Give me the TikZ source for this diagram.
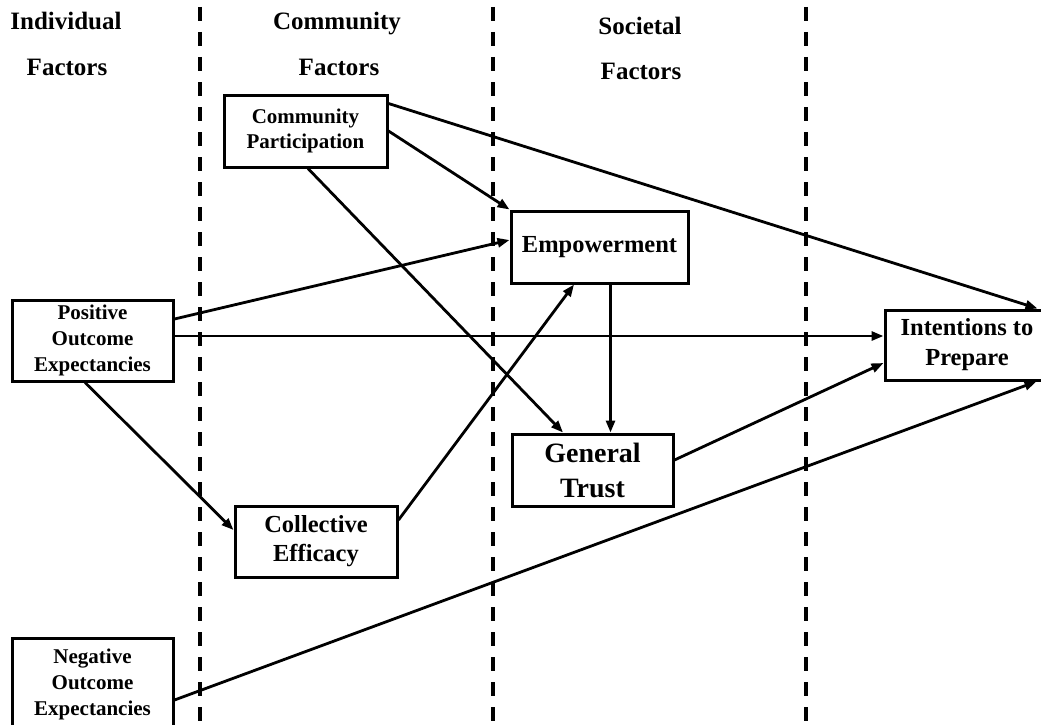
\documentclass[tikz,border=0pt]{standalone}
\usepackage{fontspec}
\setmainfont{Liberation Serif}
\usetikzlibrary{arrows.meta,calc}

\tikzset{
  factor/.style={draw, line width=3pt, align=center, inner sep=0pt},
  head/.style={anchor=base, font=\bfseries\fontsize{25}{26}\selectfont},
  divider/.style={line width=3.5pt, dash pattern=on 14pt off 11pt},
  link/.style={line width=2.8pt, -{Triangle[length=12pt,width=9pt]}},
}

\begin{document}
\begin{tikzpicture}[x=1pt, y=-1pt]
    \useasboundingbox (0,0) rectangle (1041,725);
    % column dividers
    \foreach \x in {200,493,806}
        \draw[divider] (\x,7) -- (\x,725);
    % column headings
    \node[head] (indiv1) at (66,30) {Individual};
    \node[head] (indiv2) at (67,75) {Factors};
    \node[head] (comm1) at (337,30) {Community};
    \node[head] (comm2) at (339,75) {Factors};
    \node[head] (soc1) at (640,35) {Societal};
    \node[head] (soc2) at (641,80) {Factors};
    % factors
    \node[factor, minimum width=163pt, minimum height=72pt, font=\bfseries\fontsize{21}{25}\selectfont] (part) at (305.5,131) {Community\\Participation};
    \node[factor, minimum width=177pt, minimum height=72pt, font=\bfseries\fontsize{24.5}{28}\selectfont] (emp) at (599.5,247) {Empowerment};
    \node[factor, minimum width=161pt, minimum height=81pt, font=\bfseries\fontsize{21}{26}\selectfont] (pos) at (92.5,340.5) {Positive\\Outcome\\Expectancies};
    \node[factor, minimum width=164pt, minimum height=70pt, font=\bfseries\fontsize{24.5}{30}\selectfont] (intent) at (967,345) {Intentions to\\Prepare};
    \node[factor, minimum width=161pt, minimum height=72pt, font=\bfseries\fontsize{28}{35}\selectfont] (gt) at (592.5,470) {General\\Trust};
    \node[factor, minimum width=162pt, minimum height=71pt, font=\bfseries\fontsize{24.5}{29}\selectfont] (coll) at (316,541.5) {Collective\\Efficacy};
    \node[factor, minimum width=161pt, minimum height=92pt, font=\bfseries\fontsize{21}{26}\selectfont] (neg) at (92.5,684) {Negative\\Outcome\\Expectancies};
    % paths
    \draw[link] ([yshift=-10pt]part.north east) -- ([xshift=-13pt]intent.north east);
    \draw[link] (part.east) -- (emp.north west);
    \draw[link] ([xshift=2.5pt]part.south) -- ([xshift=-29.5pt]gt.north);
    \draw[link] ([yshift=21.5pt]pos.east) -- ([yshift=7pt]emp.west);
    \draw[link] ([yshift=4.5pt]pos.east) -- ([yshift=4.5pt]pos.east -| intent.west);
    \draw[link] ([xshift=-7.5pt]pos.south) -- ([yshift=11.5pt]coll.west);
    \draw[link] ([yshift=21.5pt]coll.east) -- ([xshift=-25.5pt]emp.south);
    \draw[link] ([xshift=11pt]emp.south) -- ([xshift=11pt]emp.south |- gt.north);
    \draw[link] ([yshift=10pt]gt.east) -- ([yshift=-18pt]intent.west);
    \draw[link] ([yshift=-16pt]neg.east) -- ([xshift=-14pt]intent.south east);
\end{tikzpicture}
\end{document}
